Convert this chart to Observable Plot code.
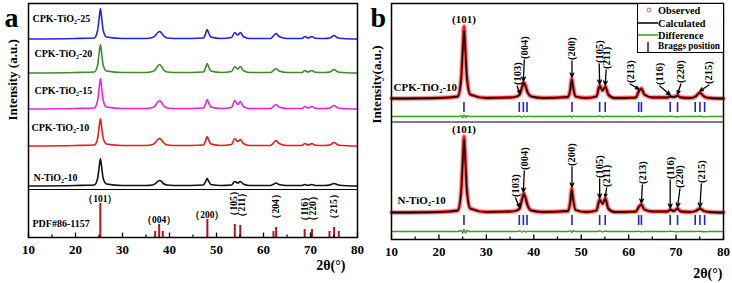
<!DOCTYPE html>
<html><head><meta charset="utf-8">
<script src="https://cdn.jsdelivr.net/npm/d3@7"></script>
<script src="https://cdn.jsdelivr.net/npm/@observablehq/plot@0.6"></script>
<style>
body{margin:0;background:#fff;}
#wrap{position:relative;width:732px;height:283px;overflow:hidden;background:#fff;}
#pa,#pb{position:absolute;top:0;}
#pa{left:0;} #pb{left:366px;}
#legend{position:absolute;left:637px;top:3px;width:85px;height:48px;border:1.3px solid #000;background:#fff;}
#legend svg{display:block;}
</style></head><body>
<div id="wrap"><div id="pa"></div><div id="pb"></div>
<div id="legend"><svg width="85" height="48" font-family="Liberation Serif, Times New Roman, serif" font-weight="bold" font-size="10.3">
<circle cx="11" cy="6" r="1.9" fill="none" stroke="#f07070" stroke-width="1.1"/>
<text x="20" y="9.5">Observed</text>
<line x1="0" x2="20" y1="19" y2="19" stroke="#000" stroke-width="1.5"/>
<text x="20" y="22.5">Calculated</text>
<line x1="0" x2="20" y1="31" y2="31" stroke="#3f9a1f" stroke-width="1.5"/>
<text x="20" y="34.5">Difference</text>
<line x1="10" x2="10" y1="38" y2="48" stroke="#2020dd" stroke-width="1.6"/>
<text x="20" y="44.8" font-size="10" textLength="62" lengthAdjust="spacingAndGlyphs">Braggs position</text>
</svg></div>
</div>
<script>
// ---------- data ----------
const twoTheta = [10, 20, 24.0, 24.7, 25.0, 25.3, 25.6, 25.9, 26.6, 30, 35, 36.4, 37.0, 37.5, 37.9, 38.3, 38.7, 39.5, 42, 47.2, 47.7, 48.0, 48.3, 48.8, 51, 53.2, 53.9, 54.5, 55.1, 55.7, 57, 61.5, 62.2, 62.7, 63.3, 65, 68.2, 68.8, 69.5, 70.3, 71.0, 73, 74.1, 75.0, 75.9, 77, 80];

// panel a intensities (a.u.)
const cpk25 = [0.5,1,1.5,9,20,31,20,9,2.5, 1,1,2,4,7,8,6.5,4,1.5, 1,1.5,6,10,7,2.5, 1,2,7,4.5,7,3, 1,1,4,6,3, 1,1,3,1.5,3,1.2, 1,1.5,4,1.5,1,0.5];
const cpk20 = [0.5,1,1.5,8,19,29,19,8,2.5, 1,1,2,4,7.5,9,7,4,1.5, 1,1.5,6,10,7,2.5, 1,2,7,4.5,7,3, 1,1,3.5,5,2.5, 1,1,3,1.5,3,1.2, 1,1.5,4,1.5,1,0.5];
const cpk15 = [0.5,1,1.5,9,20,31,20,9,2.5, 1,1,2,4,7.5,9,7,4,1.5, 1,1.5,6,10,7,2.5, 1,2,9,5,8,3, 1,1,3.5,5,2.5, 1,1,3,1.5,3,1.2, 1,1.5,4,1.5,1,0.5];
const cpk10 = [0.5,1,1.5,8,18,28,18,8,2.5, 1,1,2,4,7,8,6.5,4,1.5, 1,1.5,6,10,7,2.5, 1,2,8,5,7,3, 1,1,4,6,3, 1,1,3,1.5,3,1.2, 1,1.5,4,1.5,1,0.5];
const nTiO2 = [0.5,1,1.5,8,18,28,18,8,2.5, 1,1,1.5,3,5,6,5,3,1.5, 1,1.5,5,8,5.5,2, 1,1.5,5,3.5,5,2.5, 1,1,2.5,3.5,2, 1,1,2,1.2,2,1, 1,1.5,3,1.5,1,0.5];

// PDF#86-1157 reference lines
const pdfPos = [25.28, 36.95, 37.80, 38.57, 48.05, 53.89, 55.06, 62.12, 62.69, 68.76, 70.31, 74.03, 75.03, 76.02];
const pdfInt = [34, 6, 13, 6, 18, 13, 12, 6, 10, 8, 8, 6, 10, 6];
const pdfHkl = ["（101）", "（004）", "（200）", "（105）", "（211）", "（204）", "（116）", "（220）", "（215）"];
const pdfHklPos = [25.28, 37.80, 48.05, 53.89, 55.06, 62.69, 68.76, 70.31, 75.03];

// panel b Rietveld refinement
const obsCPK = [1,1.5,3,22,48,73,48,22,5, 1.5,2,3,5,12,17,13,7,3, 1.5,2.5,10,21,12,3, 1.5,3,14,9,13,5, 1.5,2,9,11,5, 2,2,3,2.5,4,2, 1.5,3,7,3,1.5,1];
const calcCPK = [1,1.5,3,21,46,69,46,21,5, 1.5,2,3,5,12,16.5,12.5,7,3, 1.5,2.5,10,20,12,3, 1.5,3,13.5,9,12.5,5, 1.5,2,8.5,10.5,5, 2,2,3,2.5,3.5,2, 1.5,3,6.5,3,1.5,1];
const diffCPK = [0,0,0,0.8,-1.2,1.5,-1,0.8,0, 0,0,0,0.4,-0.5,0.5,-0.4,0.3,0, 0,0,0.5,-0.8,0.6,0, 0,0,0.5,-0.4,0.4,0, 0,0,0.3,-0.3,0, 0,0,0.3,0,-0.3,0, 0,0,0.3,-0.3,0,0];
const obsN = [1,1.5,3,23,51,77,51,23,5, 1.5,2,3,5,14,20,15,8,3, 1.5,2.5,12,25,14,3.5, 1.5,3,14,10,15,5, 1.5,2,7,9,4, 2,2,4,2.5,5,2, 1.5,2.5,5,2.5,1.5,1];
const calcN = [1,1.5,3,22,49,74,49,22,5, 1.5,2,3,5,13.5,19.5,14.5,8,3, 1.5,2.5,11.5,24,13.5,3.5, 1.5,3,13.5,9.5,14.5,5, 1.5,2,7,8.5,4, 2,2,3.5,2.5,4.5,2, 1.5,2.5,4.5,2.5,1.5,1];
const diffN = [0,0,0,1,-1.5,2,-1.5,1,0, 0,0,0,0.5,-0.6,0.6,-0.5,0.3,0, 0,0,0.6,-1,0.7,0, 0,0,0.5,-0.4,0.5,0, 0,0,0.3,-0.3,0, 0,0,0.3,0,-0.3,0, 0,0,0.3,-0.3,0,0];
const braggPos = [25.28, 36.95, 37.80, 38.57, 48.05, 53.89, 55.06, 62.12, 62.69, 68.76, 70.31, 74.03, 75.03, 76.02];

const majorTicks = [10, 20, 30, 40, 50, 60, 70, 80];
const minorTicks = [15, 25, 35, 45, 55, 65, 75];

// ---------- layout ----------
const serif = '"Liberation Serif","Times New Roman",serif';
const fontA = {fontFamily: serif, fontWeight: "bold"};
const rowsOf = (vals, off) => twoTheta.map((t, i) => ({t, y: off + vals[i]}));
const valueAt = (vals, t) => { let b = 0; twoTheta.forEach((x, i) => { if (Math.abs(x - t) < Math.abs(twoTheta[b] - t)) b = i; }); return vals[b]; };

const seriesA = [
  {name: "CPK-TiO₂-25", vals: cpk25, off: 198, color: "#1e22f0", lift: 21, indent: 4},
  {name: "CPK-TiO₂-20", vals: cpk20, off: 164, color: "#3c8c28", lift: 20, indent: 6},
  {name: "CPK-TiO₂-15", vals: cpk15, off: 128, color: "#f01ef0", lift: 19, indent: 6},
  {name: "CPK-TiO₂-10", vals: cpk10, off: 91, color: "#f01818", lift: 19, indent: 3},
  {name: "N-TiO₂-10", vals: nTiO2, off: 51, color: "#111111", lift: 9, indent: 5}
];
function valueAtPdf(p){ return pdfInt[pdfPos.indexOf(p)]; }
const pdfSticks = pdfPos.map((p, i) => ({p, h: pdfInt[i]}));
const pdfLabels = pdfHkl.map((s, i) => ({s, p: pdfHklPos[i], h: valueAtPdf(pdfHklPos[i]), rot: i >= 3, dx: [0,0,0,-1,2,0,0,1,0][i]}));

const axisMarks = (pad) => [
  Plot.axisX(majorTicks, {tickSize: -4.5, tickFormat: () => "", strokeWidth: 1.3}),
  Plot.axisX(minorTicks, {tickSize: -2.5, tickFormat: () => "", strokeWidth: 1.2}),
  Plot.axisX(majorTicks, {tickSize: 0, tickPadding: pad, fontSize: 13, ...fontA})
];

const plotA = Plot.plot({
  width: 366, height: 283,
  marginLeft: 28, marginRight: 9, marginTop: 3, marginBottom: 46,
  x: {domain: [10, 80]},
  y: {domain: [0, 234], axis: null},
  style: {fontFamily: serif, background: "transparent", overflow: "visible"},
  marks: [
    ...seriesA.map(s => Plot.line(rowsOf(s.vals, s.off), {x: "t", y: "y", stroke: s.color, strokeWidth: 1.6, curve: "monotone-x"})),
    Plot.ruleY([48], {stroke: "#000", strokeWidth: 1.2}),
    Plot.ruleX(pdfSticks, {x: "p", y1: 0, y2: "h", stroke: "#b3141d", strokeWidth: 2}),
    Plot.text(pdfLabels.filter(d => !d.rot), {x: "p", y: "h", text: "s", lineAnchor: "bottom", dy: -2, fontSize: 9.5, fontWeight: "bold", fontFamily: serif}),
    ...pdfLabels.filter(d => d.rot).map(d => Plot.text([d], {x: "p", y: "h", text: "s", rotate: -90, textAnchor: "start", lineAnchor: "middle", dy: -4, dx: d.dx, fontSize: 9.5, fontWeight: "bold", fontFamily: serif})),
    ...seriesA.map(s => Plot.text([s], {y: "off", frameAnchor: "left", text: "name", textAnchor: "start", lineAnchor: "middle", dx: s.indent, dy: -s.lift, fontSize: 10, ...fontA})),
    Plot.text(["PDF#86-1157"], {frameAnchor: "bottom-left", textAnchor: "start", lineAnchor: "middle", dx: 4, dy: -14, fontSize: 10, ...fontA}),
    Plot.frame({stroke: "#000", strokeWidth: 1.5}),
    ...axisMarks(7),
    Plot.text(["2θ(°)"], {frameAnchor: "bottom-right", textAnchor: "end", lineAnchor: "middle", dx: -12, dy: 28, fontSize: 14, ...fontA}),
    Plot.text(["Intensity (a.u.)"], {frameAnchor: "left", rotate: -90, lineAnchor: "middle", dx: -16, fontSize: 13, ...fontA}),
    Plot.text(["a"], {frameAnchor: "top-left", textAnchor: "start", lineAnchor: "bottom", dx: -24, dy: 23, fontSize: 28, ...fontA})
  ]
});
document.getElementById("pa").append(plotA);

// panel b
const subB = [
  {name: "CPK-TiO₂-10", obs: obsCPK, calc: calcCPK, diff: diffCPK, off: 140, diffOff: 123, braggLo: 127, braggHi: 137, nameDy: -12, nameDx: 2,
   ann: [
     {hkl: "(103)", at: 36.95, lean: -0.45, stem: 7},
     {hkl: "(004)", at: 37.80, lean: 0.2, stem: 21},
     {hkl: "(200)", at: 48.05, lean: 0, stem: 16},
     {hkl: "(105)", at: 53.89, lean: -0.1, stem: 20},
     {hkl: "(211)", at: 55.06, lean: 0.2, stem: 15},
     {hkl: "(213)", at: 62.12, lean: -1.8, stem: 5},
     {hkl: "(116)", at: 68.76, lean: -2.2, stem: 9},
     {hkl: "(220)", at: 70.31, lean: 0.7, stem: 10},
     {hkl: "(215)", at: 75.03, lean: 1.9, stem: 6}
   ]},
  {name: "N-TiO₂-10", obs: obsN, calc: calcN, diff: diffN, off: 26, diffOff: 8, braggLo: 14, braggHi: 24, nameDy: -13, nameDx: 6,
   ann: [
     {hkl: "(103)", at: 36.95, lean: -0.8, stem: 9},
     {hkl: "(004)", at: 37.80, lean: 0.2, stem: 21},
     {hkl: "(200)", at: 48.05, lean: 0, stem: 20},
     {hkl: "(105)", at: 53.89, lean: 0, stem: 19},
     {hkl: "(211)", at: 55.06, lean: 0.3, stem: 9},
     {hkl: "(213)", at: 62.69, lean: 0.2, stem: 18},
     {hkl: "(116)", at: 68.76, lean: 0, stem: 28},
     {hkl: "(220)", at: 70.31, lean: 0.5, stem: 18},
     {hkl: "(215)", at: 75.03, lean: 0.3, stem: 23}
   ]}
];

const marksB = [];
for (const s of subB) {
  const obsRows = rowsOf(s.obs, s.off);
  marksB.push(
    Plot.line(obsRows, {x: "t", y: "y", stroke: "#f6a8a8", strokeWidth: 5, curve: "monotone-x"}),
    Plot.line(obsRows, {x: "t", y: "y", stroke: "#ee1c1c", strokeWidth: 2.8, curve: "monotone-x"}),
    Plot.line(rowsOf(s.calc, s.off), {x: "t", y: "y", stroke: "#000", strokeWidth: 1.3, curve: "monotone-x"}),
    Plot.line(rowsOf(s.diff, s.diffOff), {x: "t", y: "y", stroke: "#3f9a1f", strokeWidth: 1.4, curve: "monotone-x"}),
    Plot.ruleX(braggPos, {x: d => d, y1: s.braggLo, y2: s.braggHi, stroke: "#2020dd", strokeWidth: 1.6})
  );
  const annRows = s.ann.map(a => {
    const yEnd = s.off + valueAt(s.obs, a.at) + 1.5;
    return {hkl: a.hkl, x1: a.at + a.lean, y1: yEnd + a.stem, x2: a.at, y2: yEnd};
  });
  marksB.push(
    Plot.arrow(annRows, {x1: "x1", y1: "y1", x2: "x2", y2: "y2", stroke: "#000", strokeWidth: 1.3, headLength: 5, headAngle: 50}),
    Plot.text(annRows, {x: "x1", y: "y1", text: "hkl", rotate: -90, textAnchor: "start", lineAnchor: "middle", dy: -1, fontSize: 10.5, ...fontA}),
    Plot.text([s], {x: () => 25.28, y: d => d.off + valueAt(d.obs, 25.3), text: () => "(101)", lineAnchor: "bottom", dy: -4, fontSize: 11, ...fontA}),
    Plot.text([s], {y: "off", frameAnchor: "left", text: "name", textAnchor: "start", lineAnchor: "middle", dx: s.nameDx, dy: s.nameDy, fontSize: 11, ...fontA})
  );
}

const plotB = Plot.plot({
  width: 366, height: 283,
  marginLeft: 25, marginRight: 9, marginTop: 3, marginBottom: 44,
  x: {domain: [10, 80]},
  y: {domain: [0, 236], axis: null},
  style: {fontFamily: serif, background: "transparent", overflow: "visible"},
  marks: [
    ...marksB,
    Plot.ruleY([117.5], {stroke: "#000", strokeWidth: 1.2}),
    Plot.frame({stroke: "#000", strokeWidth: 1.5}),
    ...axisMarks(7),
    Plot.text(["2θ(°)"], {frameAnchor: "bottom-right", textAnchor: "end", lineAnchor: "middle", dx: -1, dy: 34, fontSize: 14, ...fontA}),
    Plot.text(["Intensity(a.u.)"], {frameAnchor: "left", rotate: -90, lineAnchor: "middle", dx: -15, dy: 2, fontSize: 13, ...fontA}),
    Plot.text(["b"], {frameAnchor: "top-left", textAnchor: "start", lineAnchor: "bottom", dx: -21, dy: 23, fontSize: 28, ...fontA})
  ]
});
document.getElementById("pb").append(plotB);
</script>
</body></html>
